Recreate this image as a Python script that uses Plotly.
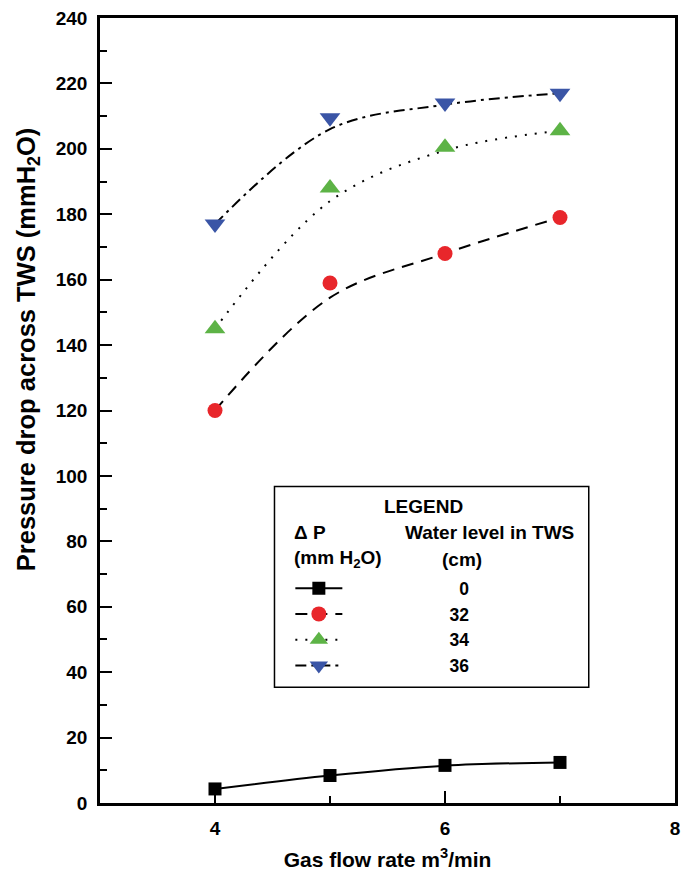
import plotly.graph_objects as go

# ---- data ----
flow = [4, 5, 6, 7]
levels = ["0", "32", "34", "36"]
dp_0 = [4.3, 8.4, 11.5, 12.4]
dp_32 = [120, 159, 168, 179]
dp_34 = [145, 188, 200.5, 205.5]
dp_36 = [177, 209.5, 214, 217]
# fitted trend curves
fit_0 = [4.3, 8.4, 11.4, 12.4]
fit_32 = [120, 154.5, 168, 179]
fit_34 = [145, 184, 199.5, 205.5]
fit_36 = [177, 206, 213.5, 217]

FONT = "Liberation Sans, Arial, sans-serif"
colors = ["#000000", "#E8262B", "#5DB346", "#3A55A6"]
symbols = ["square", "circle", "triangle-up", "triangle-down"]
sizes = [13, 15, 18, 18]
dashes = ["solid", "12px,8px", "2px,8px", "11px,5px,3px,5px"]
data = [dp_0, dp_32, dp_34, dp_36]
fits = [fit_0, fit_32, fit_34, fit_36]
pad = ["\u00a0" * 23, "\u00a0" * 21, "\u00a0" * 21, "\u00a0" * 21]
names = [pad[i] + levels[i] for i in range(4)]

fig = go.Figure()
for i in range(4):
    fig.add_trace(go.Scatter(x=flow, y=fits[i], mode="lines",
                             line=dict(color="black", width=2, dash=dashes[i], shape="spline", smoothing=1.0),
                             showlegend=False, hoverinfo="skip"))
for i in range(4):
    fig.add_trace(go.Scatter(x=flow, y=data[i], mode="markers",
                             marker=dict(symbol=symbols[i], size=sizes[i], color=colors[i], line=dict(width=0)),
                             showlegend=False))
# legend-only entries (no data)
for i in range(4):
    fig.add_trace(go.Scatter(x=[None], y=[None], mode="lines+markers", name=names[i],
                             line=dict(color="black", width=2, dash=dashes[i]),
                             marker=dict(symbol=symbols[i], size=sizes[i], color=colors[i], line=dict(width=0)),
                             showlegend=True))

W, H = 688, 882
L, R, T, B = 100, 8, 17, 79
pw, ph = W - L - R, H - T - B

def px(x):
    return (x - L) / pw

def py(y):
    return (H - B - y) / ph

axis_common = dict(showline=True, linecolor="black", linewidth=2.5, mirror=True, ticks="inside",
                   tickcolor="black", tickwidth=2, showgrid=False, zeroline=False,
                   tickfont=dict(family=FONT, size=19, color="black", weight="bold"))

fig.update_xaxes(range=[3, 8], tickvals=[4, 6, 8], ticklen=12, ticklabelstandoff=6,
                 minor=dict(tickvals=[5, 7], ticklen=7, tickwidth=2, tickcolor="black", ticks="inside"),
                 title=dict(text="Gas flow rate m<sup>3</sup>/min", font=dict(family=FONT, size=21, color="black", weight="bold"), standoff=15),
                 **axis_common)
fig.update_yaxes(range=[0, 240], dtick=20, ticklen=12, ticklabelstandoff=6,
                 minor=dict(dtick=10, ticklen=7, tickwidth=2, tickcolor="black", ticks="inside"),
                 **axis_common)

shapes = [dict(type="rect", xref="paper", yref="paper", x0=px(276), x1=px(593), y0=py(687), y1=py(486),
               line=dict(color="black", width=1.5), fillcolor="white", layer="below")]

af = dict(family=FONT, size=19, color="black", weight="bold")
ann = []
def add(text, x, y, xanchor="left"):
    ann.append(dict(text=text, xref="paper", yref="paper", x=px(x), y=py(y), xanchor=xanchor, yanchor="middle",
                    showarrow=False, font=af))
add("LEGEND", 426, 506, "center")
add("\u0394 P", 294, 532)
add("Water level in TWS", 406, 532)
add("(mm H<sub>2</sub>O)", 294, 559)
add("(cm)", 443, 559)
# y-axis title (placed like the reference, above the plot centre)
ann.append(dict(text="Pressure drop across TWS (mmH<sub>2</sub>O)", xref="paper", yref="paper",
                x=px(27), y=py(349), xanchor="center", yanchor="middle", textangle=-90, showarrow=False,
                font=dict(family=FONT, size=25.5, color="black", weight="bold")))

fig.update_layout(
    width=W, height=H, margin=dict(l=L, r=R, t=T, b=B),
    plot_bgcolor="white", paper_bgcolor="white",
    font=dict(family=FONT, color="black"),
    shapes=shapes, annotations=ann,
    legend=dict(x=px(292), y=py(570), xanchor="left", yanchor="top", bgcolor="rgba(0,0,0,0)",
                borderwidth=0, itemwidth=47, font=dict(family=FONT, size=17.5, color="black", weight="bold"),
                tracegroupgap=0),
)

fig.write_html("out.html")
